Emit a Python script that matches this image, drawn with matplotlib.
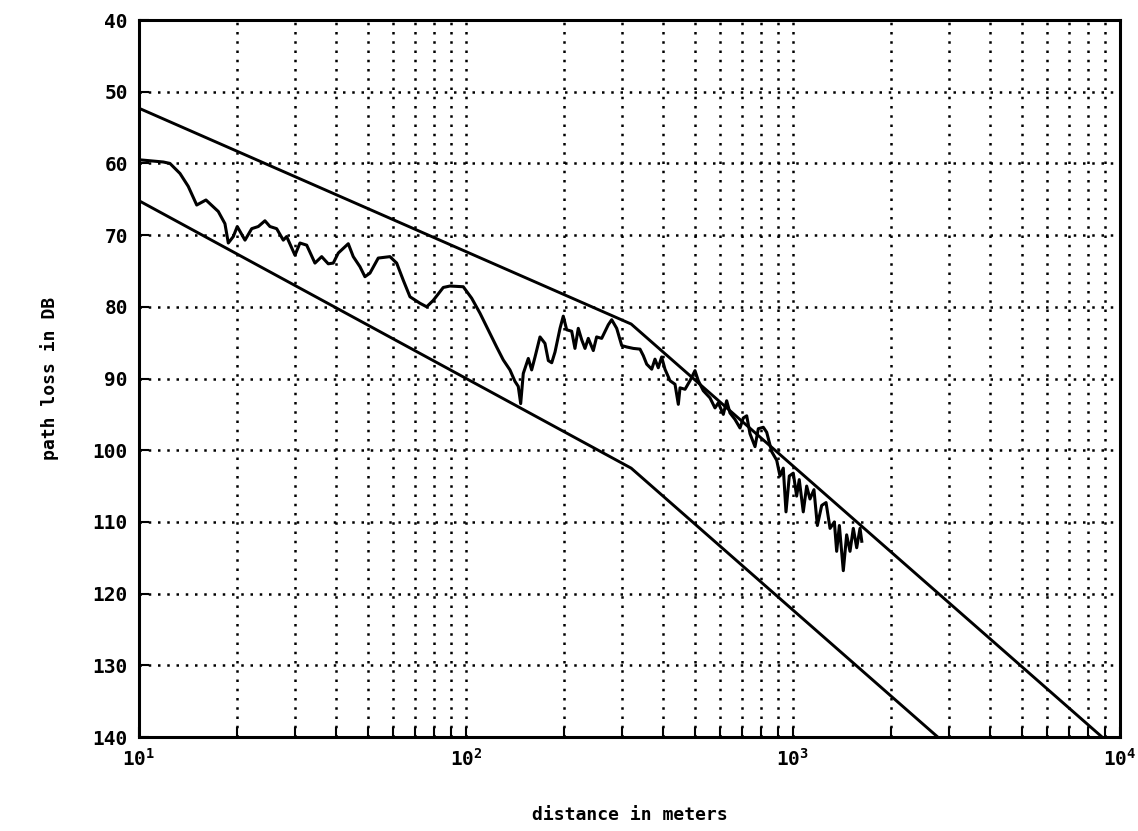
import numpy as np
import matplotlib
matplotlib.use('Agg')
from matplotlib import pyplot as plt
from matplotlib.ticker import LogLocator, FixedLocator, NullFormatter

# measured path loss (distance in m, loss in dB)
meas_d = [10.07, 11.87, 12.44, 13.35, 14.15, 15.02, 16.03, 17.48, 18.32, 18.76,
          19.43, 19.98, 21.10, 22.12, 23.17, 24.28, 25.15, 26.37, 27.63, 28.29,
          30.0, 31.07, 32.58, 34.53, 36.20, 37.92, 39.28, 40.69, 43.66, 45.22,
          47.40, 49.10, 50.86, 53.92, 58.55, 61.39, 64.32, 67.42, 72.33, 75.83,
          79.43, 85.22, 89.35, 98.1, 104.1, 110.4, 118.4, 124.1, 130.0, 136.3,
          141.2, 144.5, 147.0, 149.7, 155.1, 158.8, 162.6,
          168.4, 174.4, 178.6, 182.9, 187.2, 193.9, 198.4, 203.2, 210.5, 215.4,
          220.5, 225.9, 231.2, 236.6, 245.1, 250.9, 260.0, 272.4, 279.0, 289.0,
          299.4, 310.1, 324.9,
          340.5, 348.5, 357.0, 369.8, 378.4, 387.3, 396.6, 406.0, 420.6, 435.7,
          446.0, 451.4, 467.6, 484.2, 501.5, 513.3, 531.7, 557.4, 577.4, 591.0,
          612.2, 626.9, 641.6, 664.6, 688.6,
          704.7, 721.8, 738.8, 765.3, 783.3, 811.4, 831.0, 860.8, 891.6, 912.4,
          933.9, 951.9, 974.3, 1002, 1026, 1045, 1075, 1101, 1127, 1159,
          1187, 1224, 1262, 1298, 1338, 1360, 1386, 1425, 1459, 1494,
          1529, 1566, 1603, 1623]
meas_db = [59.5, 59.8, 60.0, 61.4, 63.2, 65.8, 65.1, 66.7, 68.4, 71.1,
           70.2, 68.8, 70.7, 69.1, 68.8, 68.0, 68.8, 69.1, 70.7, 70.2,
           72.8, 71.1, 71.4, 73.9, 73.0, 74.0, 73.9, 72.5, 71.2, 73.0,
           74.4, 75.8, 75.3, 73.2, 73.0, 73.9, 76.3, 78.6, 79.5, 80.0,
           79.1, 77.3, 77.1, 77.2, 78.8, 80.9, 83.7, 85.6, 87.4, 88.8,
           90.4, 91.1, 93.5, 89.3, 87.2, 88.8, 87.0,
           84.2, 85.1, 87.5, 87.8, 86.3, 83.0, 81.3, 83.2, 83.4, 85.8,
           83.0, 84.6, 85.8, 84.4, 86.1, 84.2, 84.4, 82.5, 81.8, 83.0,
           85.4, 85.6, 85.8,
           85.9, 86.8, 88.0, 88.7, 87.3, 88.5, 87.0, 88.7, 90.3, 90.8,
           93.6, 91.3, 91.5, 90.3, 88.9, 90.3, 91.7, 92.7, 94.1, 93.4,
           95.0, 93.1, 94.8, 95.7, 96.9,
           95.5, 95.2, 97.7, 99.5, 97.0, 96.8, 97.5, 100.2, 101.4, 103.6,
           102.5, 108.6, 103.6, 103.2, 106.4, 104.1, 108.6, 105.0, 106.8, 105.5,
           110.5, 107.7, 107.3, 110.9, 110.0, 114.1, 110.5, 116.8, 111.8, 114.1,
           110.9, 113.6, 110.9, 112.7]

# bounding model lines (breakpoint near 320 m)
upper_d = [10, 320, 10000]
upper_db = [52.3, 82.4, 142.2]
lower_d = [10, 320, 10000]
lower_db = [65.2, 102.5, 162.3]

yticks = [40, 50, 60, 70, 80, 90, 100, 110, 120, 130, 140]

plt.rcParams['font.family'] = ['DejaVu Sans Mono', 'DejaVu Sans']
plt.rcParams['font.weight'] = 'bold'
plt.rcParams['mathtext.default'] = 'bf'

fig = plt.figure(figsize=(11.38, 8.31), dpi=100)
ax = fig.add_axes([0.1221, 0.1131, 0.8621, 0.8628])

ax.plot(upper_d, upper_db, color='black', lw=2.1)
ax.plot(lower_d, lower_db, color='black', lw=2.1)
ax.plot(meas_d, meas_db, color='black', lw=2.2)

ax.set_xscale('log')
ax.set_xlim(10, 10000)
ax.set_ylim(140, 40)

ax.xaxis.set_major_locator(LogLocator(base=10, numticks=10))
ax.xaxis.set_minor_locator(LogLocator(base=10, subs=np.arange(2, 10), numticks=20))
ax.xaxis.set_minor_formatter(NullFormatter())
ax.yaxis.set_major_locator(FixedLocator(yticks))
ax.set_yticklabels([str(v) for v in yticks])

dots = (0, (1, 2.7))
ax.grid(True, which='both', axis='x', color='black', linestyle=dots, lw=1.8)
ax.grid(True, which='major', axis='y', color='black', linestyle=dots, lw=1.8)

ax.tick_params(axis='both', which='major', direction='in', length=7, width=1.5,
               labelsize=14, pad=8)
ax.tick_params(axis='x', which='minor', direction='in', length=7, width=1.5)
for lab in ax.get_xticklabels() + ax.get_yticklabels():
    lab.set_fontweight('bold')

for sp in ax.spines.values():
    sp.set_linewidth(2.2)

ax.set_ylabel('path loss in DB', fontsize=13, fontweight='bold', labelpad=24)
ax.set_xlabel('distance in meters', fontsize=13, fontweight='bold', labelpad=26)

plt.savefig('out.png', dpi=100)
